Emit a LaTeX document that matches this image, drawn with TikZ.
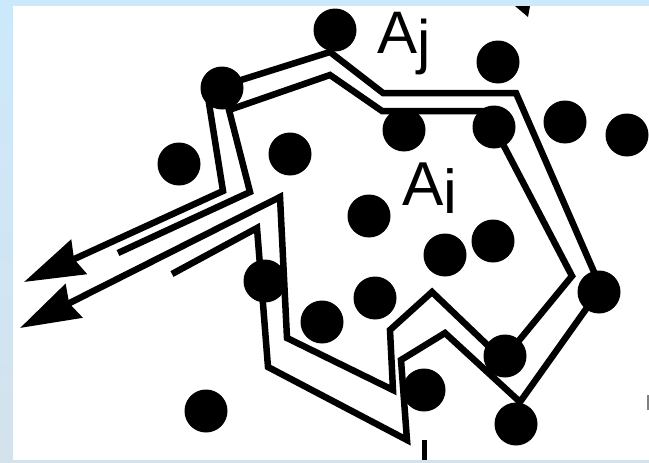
\documentclass[tikz,border=0pt]{standalone}
\usepackage{fontspec}
\setmainfont{Liberation Sans}
\usetikzlibrary{arrows.meta}
\definecolor{bgtop}{RGB}{204,233,252}
\definecolor{bgbot}{RGB}{212,226,236}
\begin{document}
\begin{tikzpicture}[x=1pt,y=-1pt,
  trail/.style={line width=6.5pt, line join=miter, line cap=butt},
  tipped/.style={trail, -{Stealth[length=60pt,width=37pt,inset=5pt]}},
  blob/.style={fill=black, draw=none},
  lbl/.style={inner sep=0pt, anchor=base west}]
\useasboundingbox (0,0) rectangle (649,463);
% frame
\fill[top color=bgtop, bottom color=bgbot] (0,0) rectangle (649,463);
\fill[white] (13,6) rectangle (649,460);

% outer trail (ends at upper arrow)
\draw[tipped] (172,274) -- (257,228) -- (268,367) -- (407,440) -- (401,360)
  -- (445,333) -- (520,402) -- (601,288) -- (516,93) -- (383,93) -- (330,52)
  -- (222,86) -- (208,97) -- (223,191) -- (24,282);

% inner trail (ends at lower arrow)
\draw[tipped] (118,253) -- (250,192) -- (229,110) -- (330,75) -- (382,111)
  -- (490,111) -- (494,127) -- (572,276) -- (503,360) -- (432,292) -- (390,330)
  -- (393,390) -- (287,338) -- (280,197) -- (20,328);

% dots
\foreach \n/\px/\py in {d1/335/30, d2/222/88, d3/179/164, d4/290/154, d5/498/62,
  d6/404/130, d7/494/127, d8/565/122, d9/627/135, d10/369/216, d11/445/255,
  d12/493/241, d13/375/298, d14/322/322, d15/265/281, d16/206/411,
  d17/424/390, d18/505/356, d19/599/292, d20/516/424}
  \fill[blob] (\px,\py) circle[radius=21.5pt] coordinate (\n);

% labels
\node[lbl, font=\fontsize{60}{60}\selectfont] (aj) at (377,53) {A\raisebox{-9pt}{j}};
\node[lbl, font=\fontsize{62}{62}\selectfont] (ai) at (402,205) {A\raisebox{-8pt}{i}};

% small marks
\fill[black] (515,6) -- (530,6) -- (528,17) -- cycle;
\fill[black] (422,440) rectangle (427,460);
\fill[gray] (647,395) rectangle (649,410);
\end{tikzpicture}
\end{document}
